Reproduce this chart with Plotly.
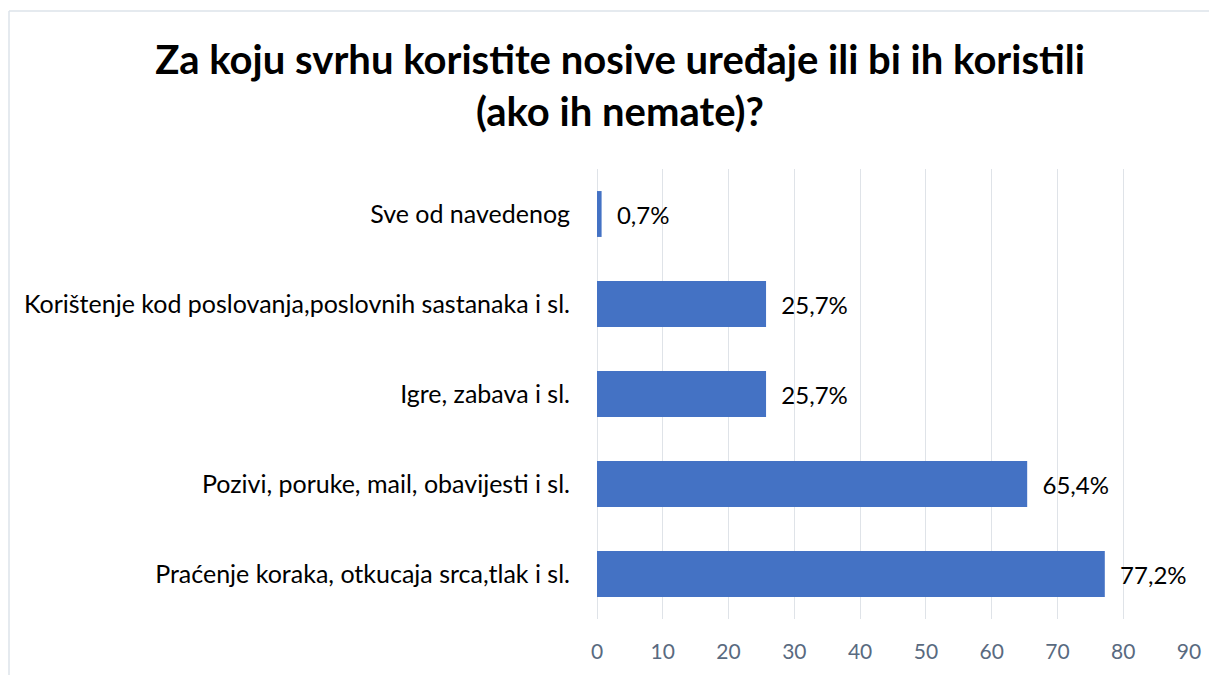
import plotly.graph_objects as go

categories = [
    "Sve od navedenog",
    "Korištenje kod poslovanja,poslovnih sastanaka i sl.",
    "Igre, zabava i sl.",
    "Pozivi, poruke, mail, obavijesti i sl.",
    "Praćenje koraka, otkucaja srca,tlak i sl.",
]
values = [0.7, 25.7, 25.7, 65.4, 77.2]
x_ticks = [0, 10, 20, 30, 40, 50, 60, 70, 80, 90]
title_text = "Za koju svrhu koristite nosive uređaje ili bi ih koristili<br>(ako ih nemate)?"

labels = ["\u00a0\u00a0" + f"{v:.1f}".replace(".", ",") + "%" for v in values]

FONT = "Lato, 'Open Sans', sans-serif"

W, H = 1217, 675
L, R, T, B = 589, 36, 161, 64
pw, ph = W - L - R, H - T - B

fig = go.Figure()
fig.add_trace(go.Bar(
    y=categories, x=values, orientation="h",
    marker=dict(color="#4472C4", line=dict(width=0)),
    text=labels, textposition="outside", cliponaxis=False,
    textfont=dict(family=FONT, size=24, color="#000000"),
    hoverinfo="skip",
))

bx = (1 - L) / pw
by = (H - B - 3) / ph
fig.update_layout(
    width=W, height=H,
    margin=dict(l=L, r=R, t=T, b=B, pad=0),
    paper_bgcolor="white", plot_bgcolor="white",
    bargap=0.49,
    showlegend=False,
    title=dict(text=title_text, x=612 / W, xanchor="center", xref="container",
               y=1 - 66 / H, yanchor="top", yref="container",
               font=dict(family=FONT, size=40, color="#000000", weight="bold")),
    xaxis=dict(range=[0, 90], tickvals=x_ticks, showgrid=True, gridcolor="#dfe3e8",
               gridwidth=1.3, zeroline=True, zerolinecolor="#dfe3e8", zerolinewidth=1.3,
               showline=False, ticks="", ticklabelstandoff=18,
               tickfont=dict(family=FONT, size=21, color="#596a80")),
    yaxis=dict(autorange="reversed", showgrid=False, showline=False, ticks="",
               ticklabelstandoff=26,
               tickfont=dict(family=FONT, size=25, color="#000000")),
    shapes=[
        dict(type="line", xref="paper", yref="paper", x0=bx, x1=bx, y0=-1, y1=by,
             line=dict(color="#dde3ea", width=1.5)),
        dict(type="line", xref="paper", yref="paper", x0=bx, x1=2, y0=by, y1=by,
             line=dict(color="#dde3ea", width=1.5)),
    ],
)

fig.write_html("out.html")
